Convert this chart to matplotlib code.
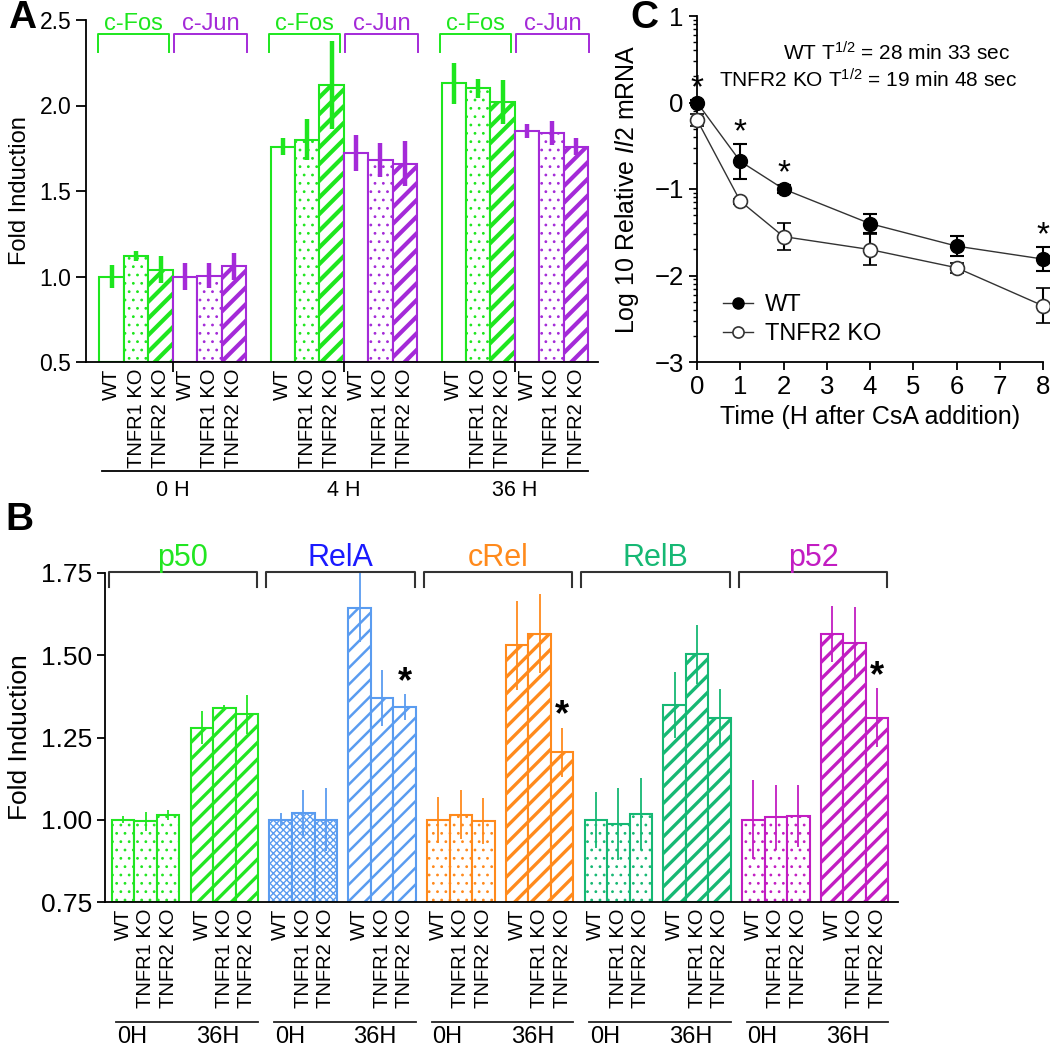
import numpy as np
import matplotlib
matplotlib.use('Agg')
from matplotlib import pyplot as plt
from matplotlib import transforms
from matplotlib.lines import Line2D

plt.rcParams['font.family'] = ['Liberation Sans', 'DejaVu Sans']
plt.rcParams['mathtext.fontset'] = 'custom'
plt.rcParams['mathtext.rm'] = 'Liberation Sans'
plt.rcParams['mathtext.it'] = 'Liberation Sans:italic'

# ---- panel A data ----
a_times = ['0 H', '4 H', '36 H']
genotypes = ['WT', 'TNFR1 KO', 'TNFR2 KO']
fos_mean = [[1.00, 1.12, 1.04], [1.76, 1.80, 2.12], [2.13, 2.10, 2.02]]
fos_err = [[0.07, 0.03, 0.08], [0.05, 0.12, 0.26], [0.12, 0.055, 0.13]]
jun_mean = [[1.00, 1.005, 1.06], [1.72, 1.68, 1.66], [1.85, 1.84, 1.76]]
jun_err = [[0.08, 0.075, 0.08], [0.105, 0.10, 0.13], [0.04, 0.07, 0.05]]

# ---- panel B data ----
b_proteins = ['p50', 'RelA', 'cRel', 'RelB', 'p52']
b_times = ['0H', '36H']
b_0h = [[1.00, 0.995, 1.015], [1.00, 1.02, 1.00], [1.00, 1.015, 0.997],
        [1.00, 0.988, 1.018], [1.00, 1.007, 1.012]]
b_0h_err = [[0.01, 0.03, 0.015], [0.02, 0.07, 0.095], [0.07, 0.075, 0.07],
            [0.085, 0.11, 0.11], [0.12, 0.10, 0.095]]
b_36h = [[1.28, 1.34, 1.32], [1.645, 1.37, 1.343], [1.53, 1.565, 1.205],
         [1.35, 1.503, 1.308], [1.565, 1.537, 1.31]]
b_36h_err = [[0.05, 0.01, 0.06], [0.105, 0.085, 0.04], [0.135, 0.12, 0.075],
             [0.10, 0.09, 0.09], [0.085, 0.11, 0.09]]
b_star = [False, True, True, False, True]

# ---- panel C data ----
c_time = [0, 1, 2, 4, 6, 8]
wt_mean = [0.0, -0.68, -1.0, -1.40, -1.66, -1.81]
wt_err = [0.03, 0.2, 0.05, 0.11, 0.12, 0.14]
ko_mean = [-0.20, -1.14, -1.55, -1.70, -1.91, -2.35]
ko_err = [0.07, 0.03, 0.16, 0.18, 0.06, 0.2]
wt_star = [True, True, True, False, False, True]

GREEN = '#1ee61e'
PURPLE = '#a42ad8'
b_colors = ['#22e622', '#5a9cf0', '#ff8a1c', '#16b874', '#c21dc2']
b_text_colors = ['#22e622', '#1a1aff', '#ff8a1c', '#16b874', '#c21dc2']

W, H = 1050, 1048
fig = plt.figure(figsize=(W / 100, H / 100), dpi=100)


def px_axes(l, t, r, b):
    return fig.add_axes([l / W, 1 - b / H, (r - l) / W, (b - t) / H])


def hatch_lw(patches, lw):
    for p in patches:
        if hasattr(p, 'set_hatch_linewidth'):
            p.set_hatch_linewidth(lw)


# ================= Panel A =================
ax = px_axes(86, 20, 598, 362)
hatches = ['', '..', '//']
hatch_w = [1.0, 0.8, 3.0]
xpos = []
for t in range(3):
    for g, (means, errs, col) in enumerate([(fos_mean, fos_err, GREEN),
                                            (jun_mean, jun_err, PURPLE)]):
        x = np.arange(3) + t * 7 + g * 3
        xpos.extend(x)
        for i in range(3):
            with plt.rc_context({'hatch.linewidth': hatch_w[i], 'hatch.color': col}):
                bars = ax.bar(x[i], means[t][i] - 0.5, bottom=0.5, width=1.0,
                              color='white', edgecolor=col, hatch=hatches[i],
                              linewidth=1.5, zorder=2)
            hatch_lw(bars, hatch_w[i])
        ax.errorbar(x, means[t], yerr=errs[t], fmt='none', ecolor=col,
                    elinewidth=3.2, capsize=0, zorder=3)

ax.set_xlim(-1.05, 19.9)
ax.set_ylim(0.5, 2.5)
ax.set_yticks([0.5, 1.0, 1.5, 2.0, 2.5])
ax.set_yticklabels(['0.5', '1.0', '1.5', '2.0', '2.5'])
ax.tick_params(axis='y', labelsize=16.5, length=7, width=1.3)
ax.set_xticks(xpos)
ax.set_xticklabels(genotypes * 6, rotation=90, fontsize=14.5)
ax.tick_params(axis='x', which='major', length=0, pad=5)
ax.set_xticks([2.5, 9.5, 16.5], minor=True)
ax.tick_params(axis='x', which='minor', length=7, width=1.3)
for s in ['top', 'right']:
    ax.spines[s].set_visible(False)
for s in ['left', 'bottom']:
    ax.spines[s].set_linewidth(1.3)
ax.set_ylabel('Fold Induction', fontsize=17, labelpad=6)

tr = transforms.blended_transform_factory(ax.transData, ax.transAxes)
ax.plot([-0.4, 19.5], [-0.319, -0.319], color='black', lw=1.3,
        transform=tr, clip_on=False)
for t, lab in enumerate(a_times):
    ax.text(t * 7 + 2.5, -0.375, lab, transform=tr, ha='center', va='center',
            fontsize=15.5)
for t in range(3):
    for g, (name, col) in enumerate([('c-Fos', GREEN), ('c-Jun', PURPLE)]):
        x0 = t * 7 + g * 3 - 0.55 + g * 0.1
        x1 = t * 7 + g * 3 + 2.33 + g * 0.2
        ax.plot([x0, x0, x1, x1], [2.31, 2.418, 2.418, 2.31], color=col,
                lw=1.4, clip_on=False)
        ax.text((x0 + x1) / 2, 2.475, name, color=col, ha='center',
                va='center', fontsize=17)

fig.text(8 / W, 1 - 18 / H, 'A', fontsize=28, fontweight='bold', va='center')

# ================= Panel B =================
ax = px_axes(105, 573, 898, 902)
xpos = []
for k, prot in enumerate(b_proteins):
    col = b_colors[k]
    for j, (means, errs) in enumerate([(b_0h, b_0h_err), (b_36h, b_36h_err)]):
        x = np.arange(3) + k * 7 + j * 3.5
        xpos.extend(x)
        if j == 0:
            hat = 'xxxxx' if prot == 'RelA' else '..'
            hlw = 1.0 if prot == 'RelA' else 0.8
        else:
            hat = '//'
            hlw = 1.8 if prot == 'RelA' else 2.4
        with plt.rc_context({'hatch.linewidth': hlw, 'hatch.color': col}):
            bars = ax.bar(x, np.array(means[k]) - 0.75, bottom=0.75, width=1.0,
                          color='white', edgecolor=col, hatch=hat,
                          linewidth=1.5, zorder=2)
        hatch_lw(bars, hlw)
        ax.errorbar(x, means[k], yerr=errs[k], fmt='none', ecolor=col,
                    elinewidth=1.3, capsize=0, zorder=3)
    if b_star[k]:
        ax.text(k * 7 + 5.5, b_36h[k][2] + b_36h_err[k][2] + 0.035, '*',
                ha='center', va='center', fontsize=26, fontweight='bold')
    x0, x1 = k * 7 - 0.65, k * 7 + 5.95
    ax.plot([x0, x0, x1, x1], [1.707, 1.753, 1.753, 1.707], color='#333333',
            lw=1.5, clip_on=False)
    ax.text((x0 + x1) / 2, 1.795, prot, color=b_text_colors[k], ha='center',
            va='center', fontsize=22)

ax.set_xlim(-0.81, 34.43)
ax.set_ylim(0.75, 1.75)
ax.set_yticks([0.75, 1.0, 1.25, 1.5, 1.75])
ax.set_yticklabels(['0.75', '1.00', '1.25', '1.50', '1.75'])
ax.tick_params(axis='y', labelsize=19, length=6, width=1.3)
ax.set_xticks(xpos)
ax.set_xticklabels(genotypes * 10, rotation=90, fontsize=14.5)
ax.tick_params(axis='x', length=0, pad=5)
for s in ['top', 'right']:
    ax.spines[s].set_visible(False)
for s in ['left', 'bottom']:
    ax.spines[s].set_linewidth(1.3)
ax.set_ylabel('Fold Induction', fontsize=19, labelpad=6)

tr = transforms.blended_transform_factory(ax.transData, ax.transAxes)
for k in range(5):
    ax.plot([k * 7 - 0.3, k * 7 + 6.0], [-0.365, -0.365], color='#222222',
            lw=1.3, transform=tr, clip_on=False)
    ax.text(k * 7 + 0.4, -0.41, b_times[0], transform=tr, ha='center',
            va='center', fontsize=17)
    ax.text(k * 7 + 4.2, -0.41, b_times[1], transform=tr, ha='center',
            va='center', fontsize=17)

fig.text(5 / W, 1 - 520 / H, 'B', fontsize=28, fontweight='bold', va='center')

# ================= Panel C =================
ax = px_axes(697, 16, 1043, 362)
ax.errorbar(c_time, wt_mean, yerr=wt_err, fmt='-o', color='#333333', lw=1,
            mfc='black', mec='black', ms=10, ecolor='black', elinewidth=1.5,
            capsize=5, capthick=1.5, clip_on=False, zorder=3)
ax.errorbar(c_time, ko_mean, yerr=ko_err, fmt='-o', color='#333333', lw=1,
            mfc='white', mec='#333333', mew=1.2, ms=10, ecolor='black',
            elinewidth=1.5, capsize=5, capthick=1.5, clip_on=False, zorder=3)
for t, m, e, s in zip(c_time, wt_mean, wt_err, wt_star):
    if s:
        ax.text(t, m + e + 0.13, '*', ha='center', va='center', fontsize=24)

ax.set_xlim(0, 8)
ax.set_ylim(-3, 1)
ax.set_xticks(range(9))
ax.set_yticks([-3, -2, -1, 0, 1])
ax.set_yticks([d + np.log10(k) for d in range(-3, 1) for k in range(2, 10)],
              minor=True)
ax.tick_params(labelsize=18.5, length=6, width=1.3)
ax.tick_params(axis='y', which='minor', length=3, width=1)
for s in ['top', 'right']:
    ax.spines[s].set_visible(False)
for s in ['left', 'bottom']:
    ax.spines[s].set_linewidth(1.3)
ax.set_xlabel('Time (H after CsA addition)', fontsize=18, labelpad=4)
ax.set_ylabel(r'Log 10 Relative $\it{Il2}$ mRNA', fontsize=18, labelpad=10)
ax.text(7.25, 0.578, r'WT T$^{1/2}$ = 28 min 33 sec', ha='right', va='center',
        fontsize=15)
ax.text(7.4, 0.266, r'TNFR2 KO T$^{1/2}$ = 19 min 48 sec', ha='right',
        va='center', fontsize=15)
handles = [Line2D([], [], color='#333333', lw=1, marker='o', ms=8,
                  mfc='black', mec='black'),
           Line2D([], [], color='#333333', lw=1, marker='o', ms=8,
                  mfc='white', mec='#333333', mew=1.2)]
ax.legend(handles, ['WT', 'TNFR2 KO'], loc='lower left',
          bbox_to_anchor=(0.04, 0.014), frameon=False, fontsize=17,
          handlelength=1.3, handletextpad=0.5, labelspacing=0.3, borderpad=0)

fig.text(630 / W, 1 - 18 / H, 'C', fontsize=28, fontweight='bold', va='center')

fig.savefig('out.png', dpi=100)
